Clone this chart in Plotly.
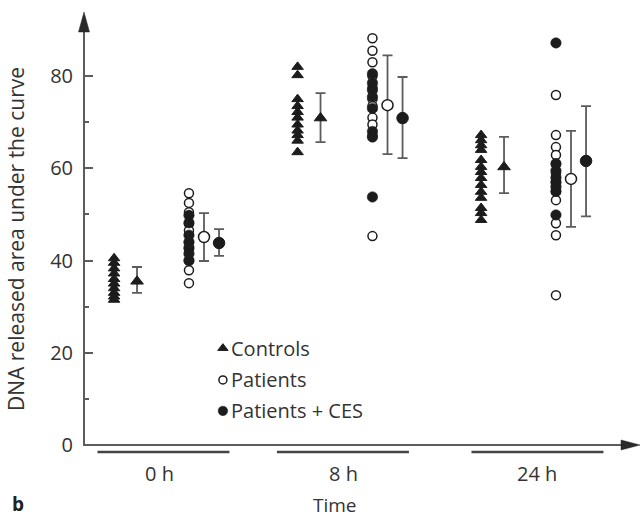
import plotly.graph_objects as go

# ---------------- data ----------------
times = ["0 h", "8 h", "24 h"]

controls_0h = [40.5, 39.5, 38.3, 37.2, 36.0, 35.0, 34.0, 33.0, 32.2, 31.5]
controls_8h = [82.0, 80.2, 75.0, 73.5, 72.2, 71.0, 69.5, 68.2, 67.2, 66.0, 63.5]
controls_24h = [67.2, 66.1, 65.0, 64.0, 61.8, 60.3, 59.2, 57.9, 56.4, 54.9, 53.6, 51.4, 50.3, 48.8]

patients_0h = [54.6, 52.5, 50.5, 48.0, 46.5, 44.0, 42.5, 40.0, 37.9, 35.1]
patients_8h = [88.2, 85.5, 83.0, 80.0, 77.5, 75.0, 73.5, 71.0, 69.5, 67.0, 45.3]
patients_24h = [75.9, 67.2, 64.6, 62.9, 61.0, 59.0, 57.0, 55.0, 53.1, 48.1, 45.5, 32.5]

ces_0h = [49.8, 48.2, 45.5, 44.0, 42.8, 41.5, 40.0]
ces_8h = [80.5, 78.5, 77.0, 75.5, 73.0, 68.0, 66.8, 53.8]
ces_24h = [87.2, 61.0, 59.5, 58.0, 57.0, 56.0, 55.0, 49.9]

ctrl_mean = [35.5, 70.9, 60.3]
ctrl_hi = [38.6, 76.3, 66.8]
ctrl_lo = [33.0, 65.7, 54.6]

pat_mean = [45.1, 73.7, 57.7]
pat_hi = [50.3, 84.5, 68.1]
pat_lo = [39.9, 63.1, 47.3]

ces_mean = [43.8, 70.9, 61.6]
ces_hi = [46.8, 79.8, 73.5]
ces_lo = [41.0, 62.2, 49.6]

yticks = [0, 20, 40, 60, 80]
yminor = [10, 30, 50, 70]
legend_names = ["Controls", "Patients", "Patients + CES"]

# ---------------- layout constants ----------------
W, H = 640, 519
L, T, PW, PH = 84, 12, 556, 433
XMIN, XMAX = -0.414, 2.616
YMIN, YMAX = 0, 93.9
groups = [0, 1, 2]
OFF_CTRL, OFF_CTRL_M = -0.25, -0.125
OFF_PAT, OFF_PAT_M, OFF_CES_M = 0.158, 0.24, 0.322

DARK = "#1c1c1c"
AXIS = "#5c5c5c"
TEXT = "#333333"
FONT = "Open Sans"
FS = 20


def px_x(p):
    return (p - L) / PW


def px_y(p):
    return ((T + PH) - p) / PH


def flat(series, off):
    xs, ys = [], []
    for g, vals in zip(groups, series):
        xs += [g + off] * len(vals)
        ys += vals
    return xs, ys


fig = go.Figure()

# individual points
cx, cy = flat([controls_0h, controls_8h, controls_24h], OFF_CTRL)
fig.add_trace(go.Scatter(x=cx, y=cy, mode="markers", showlegend=False,
                         marker=dict(symbol="triangle-up", size=10, color=DARK,
                                     line=dict(color=DARK, width=1))))
px_, py_ = flat([patients_0h, patients_8h, patients_24h], OFF_PAT)
fig.add_trace(go.Scatter(x=px_, y=py_, mode="markers", showlegend=False,
                         marker=dict(symbol="circle", size=9, color="white",
                                     line=dict(color=DARK, width=1.5))))
qx, qy = flat([ces_0h, ces_8h, ces_24h], OFF_PAT)
fig.add_trace(go.Scatter(x=qx, y=qy, mode="markers", showlegend=False,
                         marker=dict(symbol="circle", size=10.5, color=DARK,
                                     line=dict(color=DARK, width=0.5))))


def mean_trace(means, hi, lo, off, symbol, fill, size):
    return go.Scatter(
        x=[g + off for g in groups], y=means, mode="markers", showlegend=False,
        error_y=dict(type="data", symmetric=False,
                     array=[h - m for h, m in zip(hi, means)],
                     arrayminus=[m - l for m, l in zip(means, lo)],
                     color=AXIS, thickness=1.8, width=5),
        marker=dict(symbol=symbol, size=size, color=fill,
                    line=dict(color=DARK, width=1.5 if fill == "white" else 1)))


fig.add_trace(mean_trace(ctrl_mean, ctrl_hi, ctrl_lo, OFF_CTRL_M, "triangle-up", DARK, 11))
fig.add_trace(mean_trace(pat_mean, pat_hi, pat_lo, OFF_PAT_M, "circle", "white", 11))
fig.add_trace(mean_trace(ces_mean, ces_hi, ces_lo, OFF_CES_M, "circle", DARK, 11.5))

# manual legend
LEG_X = 0.343
LEG_Y = [21.0, 14.1, 7.4]
leg_styles = [
    dict(symbol="triangle-up", size=9, color=DARK, line=dict(color=DARK, width=1)),
    dict(symbol="circle", size=8, color="white", line=dict(color=DARK, width=1.5)),
    dict(symbol="circle", size=9.5, color=DARK, line=dict(color=DARK, width=0.5)),
]
for name, yy, st in zip(legend_names, LEG_Y, leg_styles):
    fig.add_trace(go.Scatter(x=[LEG_X], y=[yy], mode="markers", showlegend=False,
                             marker=st, hoverinfo="skip"))

annotations = []
for name, yy in zip(legend_names, LEG_Y):
    annotations.append(dict(x=LEG_X, y=yy, xref="x", yref="y", text=name, showarrow=False,
                            xanchor="left", yanchor="middle", xshift=6,
                            font=dict(family=FONT, size=FS, color=TEXT)))

# category labels & underline bars
label_shift_px = [0, 0, 10]
bar_shift_px = [3.5, -0.5, 10.5]
BAR_HALF = 66
unit_px = PW / (XMAX - XMIN)
shapes = []
for g, lab, ls, bs in zip(groups, times, label_shift_px, bar_shift_px):
    gpx = L + (g - XMIN) * unit_px
    annotations.append(dict(x=px_x(gpx + ls), y=px_y(473), xref="paper", yref="paper",
                            text=lab, showarrow=False, xanchor="center", yanchor="middle",
                            font=dict(family=FONT, size=FS, color=TEXT)))
    shapes.append(dict(type="line", xref="paper", yref="paper",
                       x0=px_x(gpx + bs - BAR_HALF), x1=px_x(gpx + bs + BAR_HALF),
                       y0=px_y(452), y1=px_y(452), line=dict(color="#444444", width=2.5)))

# axis lines with arrows
shapes.append(dict(type="line", xref="paper", yref="paper", x0=0, x1=0,
                   y0=px_y(446), y1=px_y(30), line=dict(color=AXIS, width=2)))
shapes.append(dict(type="path", xref="paper", yref="paper",
                   path=f"M {px_x(L-5.5)} {px_y(32)} L {px_x(L)} {px_y(12)} L {px_x(L+5.5)} {px_y(32)} Z",
                   fillcolor="#2a2a2a", line=dict(color="#2a2a2a", width=0.5)))
shapes.append(dict(type="line", xref="paper", yref="paper", x0=px_x(L-1), x1=px_x(624),
                   y0=0, y1=0, line=dict(color=AXIS, width=2)))
shapes.append(dict(type="path", xref="paper", yref="paper",
                   path=f"M {px_x(621)} {px_y(440)} L {px_x(640)} {px_y(445)} L {px_x(621)} {px_y(450)} Z",
                   fillcolor="#2a2a2a", line=dict(color="#2a2a2a", width=0.5)))

annotations.append(dict(x=px_x(335), y=px_y(505), xref="paper", yref="paper", text="Time",
                        showarrow=False, xanchor="center", yanchor="middle",
                        font=dict(family=FONT, size=19, color=TEXT)))
annotations.append(dict(x=px_x(18), y=px_y(504), xref="paper", yref="paper", text="<b>b</b>",
                        showarrow=False, xanchor="center", yanchor="middle",
                        font=dict(family=FONT, size=19, color="#222222")))
annotations.append(dict(x=px_x(16), y=px_y(239), xref="paper", yref="paper",
                        text="DNA released area under the curve", textangle=-90,
                        showarrow=False, xanchor="center", yanchor="middle",
                        font=dict(family=FONT, size=21, color=TEXT)))

fig.update_layout(
    width=W, height=H,
    margin=dict(l=L, r=W - L - PW, t=T, b=H - T - PH, pad=0),
    paper_bgcolor="white", plot_bgcolor="white",
    showlegend=False,
    xaxis=dict(range=[XMIN, XMAX], visible=False, fixedrange=True),
    yaxis=dict(range=[YMIN, YMAX], showgrid=False, zeroline=False, showline=False,
               tickmode="array", tickvals=yticks, ticks="inside", ticklen=9, tickwidth=2,
               tickcolor=AXIS, ticklabelstandoff=10,
               tickfont=dict(family=FONT, size=FS, color=TEXT),
               minor=dict(tickvals=yminor, ticks="inside", ticklen=5, tickwidth=2,
                          tickcolor=AXIS, showgrid=False)),
    shapes=shapes,
    annotations=annotations,
)

fig.write_html("out.html", config={"displayModeBar": False},
               post_script="document.body.style.margin='0px';")
